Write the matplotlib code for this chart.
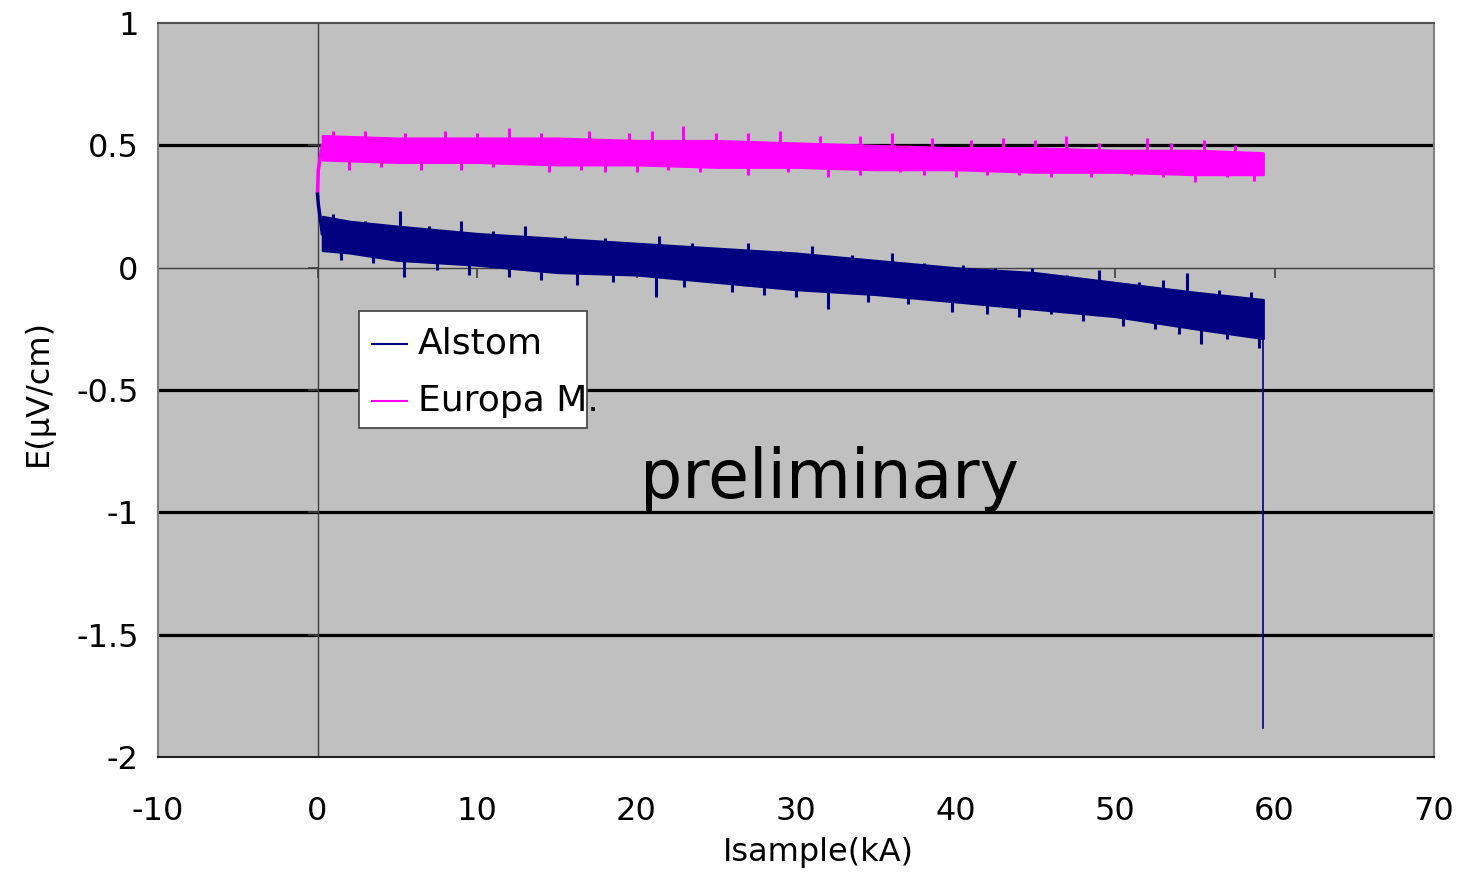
import matplotlib
matplotlib.use("Agg")
import matplotlib.pyplot as plt
from matplotlib.patches import Rectangle
import matplotlib.markers as mmarkers

plt.rcParams['font.family'] = ['DejaVu Sans']
plt.rcParams['axes.unicode_minus'] = False

# ---- data ----
# Alstom noisy band: envelope at knots (kA, µV/cm)
alstom_x = [0.3, 2, 5, 10, 15, 20, 25, 30, 35, 40, 45, 50, 55, 59.3]
alstom_hi = [0.21, 0.19, 0.17, 0.14, 0.12, 0.10, 0.08, 0.06, 0.03, 0.00, -0.02, -0.06, -0.10, -0.13]
alstom_lo = [0.07, 0.06, 0.03, 0.01, -0.02, -0.03, -0.06, -0.09, -0.11, -0.14, -0.17, -0.20, -0.25, -0.29]
alstom_start_x = [0.0, 0.05, 0.3]
alstom_start_y = [0.30, 0.26, 0.14]
alstom_end_x = [59.3, 59.3]
alstom_end_y = [-0.22, -1.88]
# Alstom noise spikes: position, band level, tip
alstom_up_x = [1.0, 3.0, 5.2, 7.0, 9.0, 11.0, 13.0, 15.5, 18.0, 21.4, 23.5, 25.5, 27.0, 29.0,
               31.0, 33.5, 36.0, 38.0, 40.5, 42.5, 44.8, 47.0, 49.0, 51.5, 53.0, 54.5, 56.5, 58.5]
alstom_up_base = [0.14, 0.13, 0.11, 0.10, 0.09, 0.08, 0.06, 0.05, 0.04, 0.03, 0.02, 0.01, 0.00, -0.01,
                  -0.02, -0.03, -0.05, -0.06, -0.08, -0.09, -0.10, -0.11, -0.12, -0.14, -0.15, -0.17, -0.19, -0.20]
alstom_up_tip = [0.22, 0.19, 0.23, 0.17, 0.19, 0.15, 0.17, 0.13, 0.12, 0.13, 0.10, 0.08, 0.10, 0.07,
                 0.09, 0.05, 0.06, 0.02, 0.01, 0.00, 0.00, -0.03, -0.01, -0.06, -0.05, -0.02, -0.09, -0.10]
alstom_dn_x = [1.5, 3.5, 5.4, 7.5, 9.5, 12.0, 14.0, 16.3, 18.5, 21.2, 23.0, 26.0, 28.0, 30.0,
               32.0, 34.5, 37.0, 39.8, 42.0, 44.0, 46.0, 48.0, 50.5, 52.5, 54.0, 55.4, 57.0, 59.0]
alstom_dn_base = [0.14, 0.13, 0.11, 0.10, 0.09, 0.07, 0.06, 0.05, 0.04, 0.03, 0.02, 0.01, 0.00, -0.01,
                  -0.03, -0.04, -0.05, -0.07, -0.08, -0.09, -0.11, -0.12, -0.14, -0.15, -0.16, -0.18, -0.19, -0.21]
alstom_dn_tip = [0.03, 0.02, -0.04, -0.01, -0.03, -0.04, -0.05, -0.07, -0.06, -0.12, -0.08, -0.10, -0.11, -0.12,
                 -0.17, -0.14, -0.15, -0.18, -0.19, -0.20, -0.19, -0.22, -0.24, -0.25, -0.27, -0.31, -0.29, -0.33]

# Europa M. noisy band
europa_x = [0.3, 5, 10, 15, 20, 25, 30, 35, 40, 45, 50, 55, 59.3]
europa_hi = [0.54, 0.53, 0.53, 0.53, 0.52, 0.52, 0.51, 0.50, 0.49, 0.49, 0.48, 0.48, 0.47]
europa_lo = [0.44, 0.43, 0.43, 0.42, 0.42, 0.41, 0.41, 0.40, 0.40, 0.39, 0.39, 0.38, 0.38]
europa_start_x = [0.0, 0.05, 0.3]
europa_start_y = [0.31, 0.40, 0.50]
europa_up_x = [1, 3, 5.5, 8, 10, 12, 14, 17, 19.5, 21, 22.9, 25, 27, 29, 31.5, 34, 36, 38.5,
               41, 43, 45, 46.9, 49, 52, 53.5, 55.6, 57.5]
europa_up_base = [0.49, 0.49, 0.48, 0.48, 0.48, 0.48, 0.48, 0.47, 0.47, 0.47, 0.47, 0.47, 0.46, 0.46,
                  0.46, 0.45, 0.45, 0.45, 0.44, 0.44, 0.44, 0.44, 0.43, 0.43, 0.43, 0.43, 0.43]
europa_up_tip = [0.56, 0.56, 0.55, 0.56, 0.55, 0.57, 0.55, 0.56, 0.55, 0.56, 0.58, 0.55, 0.55, 0.56,
                 0.54, 0.54, 0.55, 0.53, 0.52, 0.53, 0.52, 0.54, 0.51, 0.53, 0.51, 0.52, 0.50]
europa_dn_x = [2, 4, 6.5, 9, 11, 14.5, 16.5, 18, 20, 22, 24, 27, 29.5, 32, 34, 36.5, 38, 40,
               42, 44, 46, 48.5, 51, 53, 55, 57, 58.7]
europa_dn_base = [0.49, 0.49, 0.48, 0.48, 0.48, 0.48, 0.47, 0.47, 0.47, 0.47, 0.47, 0.46, 0.46, 0.46,
                  0.45, 0.45, 0.45, 0.44, 0.44, 0.44, 0.44, 0.43, 0.43, 0.43, 0.43, 0.43, 0.42]
europa_dn_tip = [0.40, 0.41, 0.40, 0.40, 0.41, 0.39, 0.40, 0.39, 0.39, 0.40, 0.39, 0.38, 0.39, 0.37,
                 0.38, 0.39, 0.38, 0.37, 0.38, 0.38, 0.37, 0.37, 0.38, 0.37, 0.35, 0.37, 0.355]

xticks = [-10, 0, 10, 20, 30, 40, 50, 60, 70]
yticks = [-2, -1.5, -1, -0.5, 0, 0.5, 1]
xtick_labels = ['-10', '0', '10', '20', '30', '40', '50', '60', '70']
ytick_labels = ['-2', '-1.5', '-1', '-0.5', '0', '0.5', '1']
grid_levels = [0.5, -0.5, -1, -1.5]

navy = '#000080'
magenta = '#FF00FF'

fig = plt.figure(figsize=(14.72, 8.74), dpi=100)
ax = fig.add_axes([158/1472, 1-757/874, (1434-158)/1472, (757-23)/874])
ax.set_facecolor('#C0C0C0')
ax.set_xlim(-10, 70)
ax.set_ylim(-2, 1)

for g in grid_levels:
    ax.axhline(g, color='black', lw=2.3, zorder=1)
ax.axhline(0, color='#404040', lw=1.0, zorder=1)
ax.axvline(0, color='#404040', lw=1.0, zorder=1)
ax.plot(xticks, [0]*len(xticks), ls='none', marker=mmarkers.TICKDOWN, ms=7, mew=1.2,
        color='#404040', zorder=1, clip_on=False)
ax.plot([0]*len(yticks), yticks, ls='none', marker=mmarkers.TICKLEFT, ms=7, mew=1.2,
        color='#404040', zorder=1, clip_on=False)

for s in ax.spines.values():
    s.set_color('#808080')
    s.set_linewidth(1.5)
ax.spines['bottom'].set_color('#202020')
ax.spines['top'].set_color('#505050')

ax.set_xticks(xticks)
ax.set_xticklabels(xtick_labels)
ax.set_yticks(yticks)
ax.set_yticklabels(ytick_labels)
ax.tick_params(axis='both', length=0, labelsize=23)
ax.tick_params(axis='x', pad=28)
ax.tick_params(axis='y', pad=14)

# Europa M.
ax.fill_between(europa_x, europa_lo, europa_hi, color=magenta, lw=1.5, zorder=3)
ax.plot(europa_start_x, europa_start_y, color=magenta, lw=2.5, zorder=3)
ax.vlines(europa_up_x, europa_up_base, europa_up_tip, color=magenta, lw=2.2, zorder=3)
ax.vlines(europa_dn_x, europa_dn_base, europa_dn_tip, color=magenta, lw=2.2, zorder=3)

# Alstom
ax.fill_between(alstom_x, alstom_lo, alstom_hi, color=navy, lw=1.5, zorder=4)
ax.plot(alstom_start_x, alstom_start_y, color=navy, lw=2.5, zorder=4)
ax.plot(alstom_end_x, alstom_end_y, color=navy, lw=1.2, zorder=4)
ax.vlines(alstom_up_x, alstom_up_base, alstom_up_tip, color=navy, lw=2.2, zorder=4)
ax.vlines(alstom_dn_x, alstom_dn_base, alstom_dn_tip, color=navy, lw=2.2, zorder=4)

# legend box (manual; the text overflows the frame as in the original)
ax.add_patch(Rectangle((2.6, -0.654), 14.3, 0.478, facecolor='white', edgecolor='#404040',
                       lw=1.2, zorder=5))
ax.plot([3.4, 5.6], [-0.31, -0.31], color=navy, lw=1.5, zorder=6)
ax.plot([3.4, 5.6], [-0.545, -0.545], color=magenta, lw=1.5, zorder=6)
ax.text(6.3, -0.31, 'Alstom', fontsize=26, va='center', ha='left', zorder=6)
ax.text(6.3, -0.545, 'Europa M.', fontsize=26, va='center', ha='left', zorder=6)

ax.text(32.1, -0.94, 'preliminary', fontsize=48, ha='center', va='baseline', zorder=6)

fig.text(818/1472, 1-852/874, 'Isample(kA)', fontsize=23, ha='center', va='center')
fig.text(38/1472, 1-392/874, 'E(μV/cm)', fontsize=23, ha='center', va='center', rotation=90)

fig.savefig('out.png', dpi=100)
